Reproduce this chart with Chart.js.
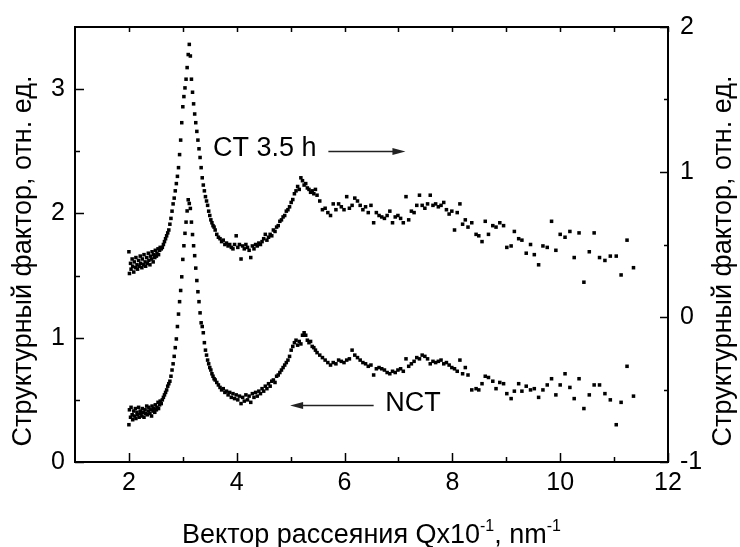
<!DOCTYPE html>
<html>
<head>
<meta charset="utf-8">
<script src="https://cdn.jsdelivr.net/npm/chart.js@4.4.0/dist/chart.umd.min.js"></script>
<style>
  body { margin: 0; background: #fff; }
</style>
</head>
<body>
<canvas id="chart" width="740" height="547"></canvas>
<script>
// scattering vector, Qx10^-1 nm^-1 (both curves are measured on the same grid)
const qValues = [
  2.00, 2.01, 2.03, 2.04, 2.06, 2.07, 2.09, 2.10, 2.12, 2.13,
  2.15, 2.16, 2.18, 2.19, 2.21, 2.22, 2.24, 2.25, 2.27, 2.28,
  2.30, 2.31, 2.33, 2.34, 2.36, 2.37, 2.39, 2.40, 2.42, 2.43,
  2.45, 2.46, 2.48, 2.49, 2.51, 2.52, 2.54, 2.55, 2.57, 2.58,
  2.60,
  2.62, 2.64, 2.66, 2.68, 2.70, 2.72, 2.74, 2.76, 2.78, 2.80,
  2.82, 2.84, 2.86, 2.88, 2.90, 2.92, 2.94, 2.96, 2.98, 3.00,
  3.02, 3.04, 3.06, 3.08, 3.10, 3.12, 3.14, 3.16, 3.18, 3.20,
  3.22, 3.24, 3.26, 3.28, 3.30, 3.32, 3.34, 3.36, 3.38, 3.40,
  3.42, 3.44, 3.46, 3.48, 3.50, 3.52, 3.54, 3.56, 3.58, 3.60,
  3.63, 3.66, 3.69, 3.72, 3.75, 3.78, 3.81, 3.84, 3.87, 3.90,
  3.93, 3.96, 3.99, 4.02, 4.05, 4.08, 4.11, 4.14, 4.17, 4.20,
  4.23, 4.26, 4.29, 4.32, 4.35, 4.38, 4.41, 4.44, 4.47, 4.50,
  4.53, 4.56, 4.59, 4.62, 4.65, 4.68, 4.71, 4.74, 4.77, 4.80,
  4.83, 4.86, 4.89, 4.92, 4.95, 4.98, 5.01, 5.04, 5.07, 5.10,
  5.13, 5.16, 5.19, 5.22, 5.25, 5.28, 5.31, 5.34, 5.37, 5.40,
  5.43, 5.46, 5.49,
  5.54, 5.59, 5.64, 5.69, 5.74, 5.79, 5.84, 5.89, 5.94, 5.99,
  6.04, 6.09, 6.14, 6.19, 6.24, 6.29, 6.34, 6.39, 6.44, 6.49,
  6.54, 6.59, 6.64, 6.69, 6.74, 6.79, 6.84, 6.89, 6.94, 6.99,
  7.04, 7.09, 7.14, 7.19, 7.24, 7.29, 7.34, 7.39, 7.44, 7.49,
  7.54, 7.59, 7.64, 7.69, 7.74, 7.79, 7.84, 7.89, 7.94, 7.99,
  8.04, 8.09, 8.14, 8.19, 8.24, 8.29,
  8.36, 8.44, 8.49, 8.55, 8.61, 8.67, 8.75, 8.81, 8.88, 8.95,
  9.01, 9.09, 9.15, 9.23, 9.29, 9.37, 9.45, 9.52, 9.60, 9.68,
  9.76, 9.84, 9.92, 10.00, 10.09, 10.18, 10.26, 10.35, 10.44, 10.54,
  10.63, 10.73, 10.83, 10.93, 11.04, 11.13, 11.24, 11.36,
];
// NCT, left axis
const nctValues = [
  0.30, 0.42, 0.36, 0.44, 0.38, 0.34, 0.41, 0.37, 0.43, 0.35,
  0.40, 0.38, 0.44, 0.36, 0.41, 0.39, 0.37, 0.43, 0.40, 0.36,
  0.42, 0.39, 0.45, 0.38, 0.41, 0.44, 0.39, 0.42, 0.37, 0.45,
  0.41, 0.43, 0.40, 0.46, 0.42, 0.44, 0.48, 0.43, 0.46, 0.49,
  0.47,
  0.50, 0.52, 0.54, 0.56, 0.58, 0.61, 0.63, 0.65, 0.69, 0.74,
  0.79, 0.85, 0.92, 0.99, 1.09, 1.19, 1.29, 1.38, 1.49, 1.63,
  1.74, 1.84, 1.93, 2.02, 2.11, 2.08, 2.04, 1.93, 1.83, 1.74,
  1.66, 1.56, 1.46, 1.37, 1.29, 1.20, 1.12, 1.09, 1.04, 0.96,
  0.90, 0.86, 0.82, 0.79, 0.76, 0.74, 0.71, 0.69, 0.67, 0.66,
  0.64, 0.62, 0.60, 0.58, 0.59, 0.56, 0.57, 0.54, 0.56, 0.52,
  0.55, 0.51, 0.54, 0.50, 0.53, 0.47, 0.52, 0.49, 0.54, 0.50,
  0.53, 0.48, 0.55, 0.52, 0.56, 0.53, 0.57, 0.55, 0.59, 0.57,
  0.61, 0.59, 0.63, 0.61, 0.65, 0.66, 0.64, 0.69, 0.70, 0.72,
  0.74, 0.76, 0.78, 0.80, 0.82, 0.85, 0.90, 0.93, 0.96, 0.98,
  0.94, 0.97, 0.95, 1.02, 1.04, 1.02, 0.98, 0.96, 0.97, 0.93,
  0.92, 0.90, 0.88,
  0.86, 0.84, 0.82, 0.80, 0.78, 0.80, 0.79, 0.82, 0.81, 0.80,
  0.82, 0.83, 0.90, 0.86, 0.84, 0.82, 0.80, 0.79, 0.77, 0.78,
  0.70, 0.75, 0.76, 0.75, 0.74, 0.72, 0.71, 0.73, 0.72, 0.74,
  0.75, 0.73, 0.83, 0.77, 0.79, 0.81, 0.84, 0.83, 0.86, 0.85,
  0.83, 0.79, 0.81, 0.80, 0.81, 0.82, 0.79, 0.80, 0.78, 0.76,
  0.75, 0.73, 0.82, 0.71, 0.76, 0.70,
  0.58, 0.59, 0.58, 0.63, 0.69, 0.68, 0.65, 0.59, 0.64, 0.63,
  0.55, 0.51, 0.57, 0.63, 0.57, 0.61, 0.58, 0.59, 0.52, 0.58,
  0.62, 0.67, 0.54, 0.62, 0.71, 0.60, 0.51, 0.67, 0.43, 0.54,
  0.62, 0.62, 0.55, 0.50, 0.30, 0.48, 0.77, 0.53,
];
// CT 3.5 h, right axis
const ctValues = [
  0.45, 0.30, 0.37, 0.33, 0.40, 0.35, 0.31, 0.38, 0.34, 0.41,
  0.36, 0.33, 0.39, 0.35, 0.42, 0.37, 0.34, 0.40, 0.36, 0.43,
  0.38, 0.35, 0.41, 0.37, 0.44, 0.39, 0.36, 0.42, 0.40, 0.45,
  0.38, 0.43, 0.41, 0.46, 0.42, 0.44, 0.47, 0.43, 0.46, 0.48,
  0.47,
  0.48, 0.50, 0.52, 0.54, 0.56, 0.58, 0.60, 0.64, 0.68, 0.73,
  0.78, 0.82, 0.87, 0.92, 0.97, 1.03, 1.12, 1.22, 1.34, 1.45,
  1.52, 1.58, 1.64, 1.72, 1.81, 1.88, 1.80, 1.64, 1.55, 1.47,
  1.40, 1.34, 1.28, 1.22, 1.16, 1.10, 1.03, 0.96, 0.91, 0.87,
  0.83, 0.80, 0.77, 0.73, 0.70, 0.67, 0.65, 0.63, 0.62, 0.60,
  0.57, 0.55, 0.54, 0.52, 0.53, 0.50, 0.51, 0.49, 0.50, 0.48,
  0.47, 0.50, 0.56, 0.48, 0.50, 0.40, 0.49, 0.47, 0.50, 0.48,
  0.46, 0.41, 0.49, 0.47, 0.50, 0.49, 0.51, 0.50, 0.52, 0.54,
  0.57, 0.53, 0.55, 0.57, 0.56, 0.60, 0.59, 0.62, 0.63, 0.66,
  0.67, 0.69, 0.70, 0.73, 0.74, 0.76, 0.79, 0.81, 0.85, 0.87,
  0.90, 0.88, 0.96, 0.94, 0.91, 0.92, 0.89, 0.88, 0.86, 0.87,
  0.85, 0.88, 0.84,
  0.80, 0.74, 0.75, 0.72, 0.70, 0.78, 0.74, 0.78, 0.76, 0.74,
  0.83, 0.75, 0.77, 0.82, 0.80, 0.77, 0.74, 0.76, 0.72, 0.77,
  0.65, 0.72, 0.70, 0.69, 0.68, 0.70, 0.73, 0.65, 0.69, 0.70,
  0.68, 0.65, 0.83, 0.67, 0.73, 0.72, 0.77, 0.84, 0.77, 0.75,
  0.78, 0.84, 0.77, 0.78, 0.76, 0.77, 0.79, 0.74, 0.71, 0.73,
  0.60, 0.72, 0.78, 0.64, 0.67, 0.62,
  0.65, 0.57, 0.56, 0.52, 0.66, 0.57, 0.63, 0.62, 0.65, 0.63,
  0.48, 0.49, 0.59, 0.54, 0.53, 0.44, 0.50, 0.43, 0.36, 0.49,
  0.48, 0.66, 0.46, 0.57, 0.55, 0.59, 0.41, 0.58, 0.24, 0.45,
  0.58, 0.41, 0.39, 0.42, 0.42, 0.29, 0.53, 0.34,
];
const xTicks = [2, 4, 6, 8, 10, 12];
const xMinor = [3, 5, 7, 9, 11];
const yLeftTicks = [0, 1, 2, 3];
const yLeftMinor = [0.5, 1.5, 2.5];
const yRightTicks = [-1, 0, 1, 2];
const yRightMinor = [-0.5, 0.5, 1.5];

const FONT = "'Liberation Sans', Arial, sans-serif";

const toPoints = (vals) => vals.map((v, i) => ({ x: qValues[i], y: v }));

const setTicks = (list) => (scale) => {
  scale.ticks = list.map((v) => ({ value: v }));
};

// frame, inward ticks, axis titles and the two arrow notes
const decorations = {
  id: "decorations",
  afterDatasetsDraw(chart) {
    const {
      ctx,
      chartArea: { left, top, right, bottom },
      scales: { x, y, y1 },
    } = chart;
    ctx.save();
    ctx.strokeStyle = "#000";
    ctx.lineWidth = 2;
    ctx.strokeRect(left, top, right - left, bottom - top);

    ctx.lineWidth = 1.5;
    ctx.beginPath();
    const seg = (a, b, c, d) => {
      ctx.moveTo(a, b);
      ctx.lineTo(c, d);
    };
    xTicks.concat(xMinor).forEach((v) => {
      const px = Math.round(x.getPixelForValue(v)) + 0.5;
      const len = xTicks.includes(v) ? 9 : 5;
      seg(px, bottom, px, bottom - len);
      seg(px, top, px, top + 5);
    });
    yLeftTicks.concat(yLeftMinor).forEach((v) => {
      const py = Math.round(y.getPixelForValue(v)) + 0.5;
      seg(left, py, left + (yLeftTicks.includes(v) ? 9 : 5), py);
    });
    yRightTicks.concat(yRightMinor).forEach((v) => {
      const py = Math.round(y1.getPixelForValue(v)) + 0.5;
      seg(right, py, right - (yRightTicks.includes(v) ? 8 : 4), py);
    });
    ctx.stroke();

    // axis titles
    ctx.fillStyle = "#000";
    ctx.font = `27px ${FONT}`;
    ctx.textAlign = "center";
    ctx.textBaseline = "middle";
    const yTitle = "Структурный фактор, отн. ед.";
    [24, 724].forEach((tx) => {
      ctx.save();
      ctx.translate(tx, 261);
      ctx.rotate(-Math.PI / 2);
      ctx.fillText(yTitle, 0, 0);
      ctx.restore();
    });

    const parts = [
      ["Вектор рассеяния Qx10", 27, 0],
      ["-1", 16, -12],
      [", nm", 27, 0],
      ["-1", 16, -12],
    ];
    let total = 0;
    parts.forEach(([t, s]) => {
      ctx.font = `${s}px ${FONT}`;
      total += ctx.measureText(t).width;
    });
    let cx = (left + right) / 2 - total / 2;
    ctx.textAlign = "left";
    ctx.textBaseline = "alphabetic";
    parts.forEach(([t, s, dy]) => {
      ctx.font = `${s}px ${FONT}`;
      ctx.fillText(t, cx, 543 + dy);
      cx += ctx.measureText(t).width;
    });

    // notes with arrows
    const arrow = (x0, x1, yy) => {
      ctx.lineWidth = 1.3;
      ctx.strokeStyle = "#222";
      ctx.fillStyle = "#222";
      const dir = Math.sign(x1 - x0);
      ctx.beginPath();
      ctx.moveTo(x0, yy);
      ctx.lineTo(x1 - dir * 10, yy);
      ctx.stroke();
      ctx.beginPath();
      ctx.moveTo(x1, yy);
      ctx.lineTo(x1 - dir * 13, yy - 3.5);
      ctx.lineTo(x1 - dir * 13, yy + 3.5);
      ctx.closePath();
      ctx.fill();
    };
    ctx.font = `27px ${FONT}`;
    ctx.fillStyle = "#000";
    ctx.textBaseline = "middle";
    ctx.fillText("CT 3.5 h", x.getPixelForValue(3.56), y.getPixelForValue(2.52));
    arrow(x.getPixelForValue(5.7), x.getPixelForValue(7.13), Math.round(y.getPixelForValue(2.5)) + 0.5);
    ctx.fillStyle = "#000";
    ctx.fillText("NCT", x.getPixelForValue(6.755), y.getPixelForValue(0.47));
    arrow(x.getPixelForValue(6.54), x.getPixelForValue(4.99), Math.round(y.getPixelForValue(0.455)) + 0.5);
    ctx.restore();
  },
};

const tickFont = { family: FONT, size: 25 };

new Chart(document.getElementById("chart"), {
  type: "scatter",
  data: {
    datasets: [
      {
        label: "CT 3.5 h",
        data: toPoints(ctValues),
        yAxisID: "y1",
        pointStyle: "rect",
        pointRadius: 2.5,
        borderWidth: 0,
        backgroundColor: "#000",
      },
      {
        label: "NCT",
        data: toPoints(nctValues),
        yAxisID: "y",
        pointStyle: "rect",
        pointRadius: 2.5,
        borderWidth: 0,
        backgroundColor: "#000",
      },
    ],
  },
  options: {
    responsive: false,
    animation: false,
    devicePixelRatio: 1,
    events: [],
    layout: { padding: { top: 26, left: 0, right: 0, bottom: 0 } },
    plugins: { legend: { display: false }, tooltip: { enabled: false } },
    scales: {
      x: {
        type: "linear",
        position: "bottom",
        min: 1,
        max: 12,
        afterBuildTicks: setTicks(xTicks),
        grid: { display: false, drawTicks: false },
        border: { display: false },
        ticks: { font: tickFont, color: "#000", padding: 6, maxRotation: 0, autoSkip: false },
        afterFit(s) {
          s.height = 85;
        },
      },
      y: {
        type: "linear",
        position: "left",
        min: 0,
        max: 3.5,
        afterBuildTicks: setTicks(yLeftTicks),
        grid: { display: false, drawTicks: false },
        border: { display: false },
        ticks: { font: tickFont, color: "#000", padding: 10 },
        afterFit(s) {
          s.width = 75;
        },
      },
      y1: {
        type: "linear",
        position: "right",
        min: -1,
        max: 2,
        afterBuildTicks: setTicks(yRightTicks),
        grid: { display: false, drawTicks: false },
        border: { display: false },
        ticks: { font: tickFont, color: "#000", padding: 12 },
        afterFit(s) {
          s.width = 72;
        },
      },
    },
  },
  plugins: [decorations],
});
</script>
</body>
</html>
